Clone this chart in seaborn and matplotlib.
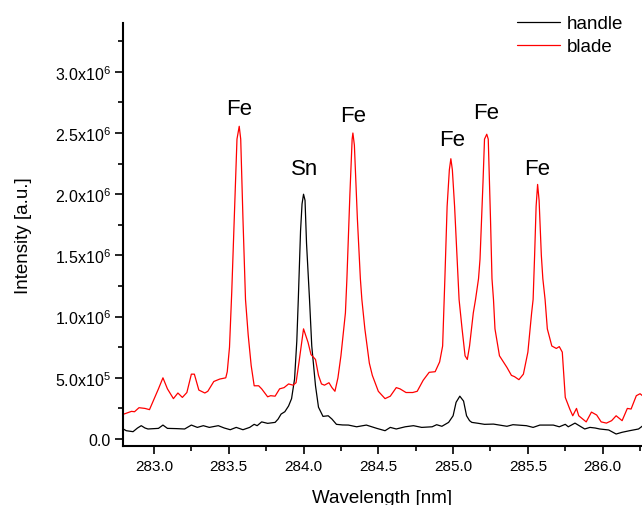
import numpy as np
import pandas as pd
import seaborn as sns
import matplotlib.pyplot as plt

# wavelength [nm] and intensity [1e6 a.u.]
handle_x = [282.79, 282.815, 282.86, 282.89, 282.915, 282.94, 282.96, 283.03, 283.06, 283.09,
            283.15, 283.205, 283.25, 283.29, 283.33, 283.37, 283.43, 283.47, 283.51, 283.55,
            283.595, 283.64, 283.67, 283.69, 283.72, 283.76, 283.81, 283.83, 283.85, 283.875,
            283.90, 283.92, 283.94, 283.955, 283.965, 283.98, 283.99, 284.00, 284.01, 284.02,
            284.04, 284.055, 284.08, 284.10, 284.13, 284.165, 284.19, 284.22, 284.26, 284.30,
            284.355, 284.42, 284.49, 284.545, 284.58, 284.62, 284.68, 284.735, 284.79, 284.86,
            284.89, 284.925, 284.97, 285.00, 285.02, 285.045, 285.07, 285.09, 285.11, 285.125,
            285.17, 285.21, 285.27, 285.36, 285.40, 285.49, 285.535, 285.58, 285.67, 285.71,
            285.75, 285.77, 285.815, 285.85, 285.88, 285.915, 285.95, 285.98, 286.04, 286.09,
            286.13, 286.18, 286.24, 286.27]
handle_y = [0.085, 0.068, 0.06, 0.09, 0.109, 0.09, 0.082, 0.087, 0.114, 0.087,
            0.085, 0.082, 0.114, 0.095, 0.109, 0.095, 0.109, 0.09, 0.076, 0.095,
            0.076, 0.095, 0.12, 0.109, 0.14, 0.128, 0.136, 0.163, 0.204, 0.223,
            0.27, 0.33, 0.49, 0.80, 1.14, 1.7, 1.92, 2.00, 1.95, 1.6,
            1.14, 0.76, 0.435, 0.26, 0.185, 0.19, 0.163, 0.12, 0.115, 0.114,
            0.10, 0.114, 0.087, 0.068, 0.095, 0.082, 0.10, 0.109, 0.095, 0.10,
            0.117, 0.104, 0.136, 0.19, 0.30, 0.35, 0.31, 0.19, 0.15, 0.136,
            0.128, 0.12, 0.122, 0.104, 0.117, 0.109, 0.095, 0.114, 0.114, 0.10,
            0.12, 0.10, 0.13, 0.104, 0.082, 0.095, 0.09, 0.082, 0.074, 0.041,
            0.055, 0.068, 0.082, 0.11]

blade_x = [282.79, 282.85, 282.87, 282.90, 282.94, 282.97, 283.03, 283.06, 283.09, 283.13,
           283.16, 283.19, 283.22, 283.25, 283.27, 283.30, 283.34, 283.36, 283.40, 283.44,
           283.48, 283.49, 283.505, 283.52, 283.54, 283.555, 283.57, 283.58, 283.595, 283.612,
           283.63, 283.65, 283.67, 283.70, 283.72, 283.76, 283.78, 283.81, 283.84, 283.87,
           283.90, 283.93, 283.95, 283.97, 284.00, 284.03, 284.05, 284.08, 284.10, 284.12,
           284.14, 284.17, 284.19, 284.21, 284.23, 284.25, 284.28, 284.29, 284.31, 284.325,
           284.33, 284.34, 284.36, 284.38, 284.39, 284.41, 284.44, 284.46, 284.50, 284.545,
           284.58, 284.62, 284.645, 284.685, 284.73, 284.76, 284.80, 284.84, 284.88, 284.91,
           284.93, 284.945, 284.96, 284.975, 284.985, 284.995, 285.01, 285.04, 285.06, 285.08,
           285.095, 285.11, 285.135, 285.15, 285.17, 285.18, 285.20, 285.21, 285.225, 285.235,
           285.25, 285.26, 285.27, 285.28, 285.31, 285.36, 285.39, 285.41, 285.44, 285.47,
           285.50, 285.525, 285.535, 285.545, 285.555, 285.565, 285.575, 285.59, 285.60, 285.615,
           285.63, 285.66, 285.69, 285.71, 285.73, 285.75, 285.78, 285.80, 285.825, 285.84,
           285.89, 285.925, 285.96, 285.99, 286.025, 286.06, 286.09, 286.13, 286.165, 286.19,
           286.225, 286.25, 286.27]
blade_y = [0.20, 0.226, 0.223, 0.256, 0.25, 0.24, 0.41, 0.50, 0.41, 0.33,
           0.376, 0.34, 0.38, 0.53, 0.53, 0.40, 0.376, 0.39, 0.47, 0.49,
           0.50, 0.55, 0.75, 1.2, 1.9, 2.45, 2.555, 2.45, 1.8, 1.14,
           0.85, 0.6, 0.435, 0.435, 0.41, 0.345, 0.354, 0.35, 0.41, 0.42,
           0.45, 0.44, 0.46, 0.63, 0.90, 0.79, 0.69, 0.65, 0.52, 0.45,
           0.44, 0.46, 0.42, 0.39, 0.5, 0.68, 1.03, 1.31, 2.0, 2.45,
           2.50, 2.4, 1.8, 1.31, 1.14, 0.90, 0.62, 0.52, 0.39, 0.33,
           0.35, 0.42, 0.41, 0.38, 0.38, 0.39, 0.48, 0.545, 0.55, 0.63,
           0.76, 1.31, 1.9, 2.2, 2.29, 2.2, 1.9, 1.14, 0.90, 0.68,
           0.65, 0.76, 1.03, 1.14, 1.31, 1.47, 2.1, 2.45, 2.49, 2.45,
           1.8, 1.31, 1.14, 0.90, 0.68, 0.585, 0.52, 0.51, 0.485, 0.53,
           0.71, 1.03, 1.14, 1.5, 1.9, 2.08, 1.95, 1.5, 1.31, 1.14,
           0.90, 0.76, 0.74, 0.755, 0.71, 0.34, 0.245, 0.19, 0.25, 0.19,
           0.14, 0.22, 0.196, 0.14, 0.13, 0.15, 0.19, 0.15, 0.25, 0.245,
           0.354, 0.37, 0.35]

# peak labels
peak_names = ["Fe", "Sn", "Fe", "Fe", "Fe", "Fe"]
peak_x = [283.57, 284.01, 284.33, 284.995, 285.22, 285.56]
peak_y = [2.70, 2.21, 2.64, 2.45, 2.67, 2.21]

ytick_vals = [0.0, 0.5, 1.0, 1.5, 2.0, 2.5, 3.0]
ytick_labels = ["0.0", "$5.0x10^{5}$", "$1.0x10^{6}$", "$1.5x10^{6}$",
                "$2.0x10^{6}$", "$2.5x10^{6}$", "$3.0x10^{6}$"]
xtick_vals = [283.0, 283.5, 284.0, 284.5, 285.0, 285.5, 286.0]

sns.set_style("ticks")
plt.rcParams["font.family"] = ["Liberation Sans", "DejaVu Sans"]
plt.rcParams["mathtext.default"] = "regular"
for key in ["text.color", "axes.labelcolor", "xtick.color", "ytick.color", "axes.edgecolor"]:
    plt.rcParams[key] = "black"

df = pd.concat([
    pd.DataFrame({"wl": handle_x, "I": np.array(handle_y) * 1e6, "sample": "handle"}),
    pd.DataFrame({"wl": blade_x, "I": np.array(blade_y) * 1e6, "sample": "blade"}),
])

fig = plt.figure(figsize=(6.42, 5.06), dpi=100)
ax = fig.add_axes([0.1916, 0.1166, 0.8084, 0.836])
sns.lineplot(data=df, x="wl", y="I", hue="sample", palette={"handle": "black", "blade": "red"},
             estimator=None, linewidth=0.9, ax=ax)

for name, px, py in zip(peak_names, peak_x, peak_y):
    ax.text(px, py * 1e6, name, ha="center", va="center", fontsize=16)

ax.set_xlim(282.793, 286.263)
ax.set_ylim(-0.057e6, 3.399e6)
ax.set_xticks(xtick_vals)
ax.set_xticklabels([f"{v:.1f}" for v in xtick_vals], fontsize=11)
ax.set_xticks(np.arange(283.25, 286.3, 0.5), minor=True)
ax.set_yticks([v * 1e6 for v in ytick_vals])
ax.set_yticklabels(ytick_labels, fontsize=11.5)
ax.set_yticks(np.arange(0.25e6, 3.4e6, 0.5e6), minor=True)
ax.tick_params(which="major", direction="out", length=6, width=1.2, pad=3)
ax.tick_params(which="minor", direction="out", length=3.5, width=1.2)
sns.despine(ax=ax)
for s in ["left", "bottom"]:
    ax.spines[s].set_linewidth(1.5)

ax.set_xlabel("Wavelength [nm]", fontsize=13.5, labelpad=12)
ax.set_ylabel("Intensity [a.u.]", fontsize=13.5, labelpad=16)

leg = ax.legend(title=None, frameon=False, loc="upper left", bbox_to_anchor=(0.806, 0.968),
                bbox_transform=fig.transFigure, fontsize=13.5, borderpad=0, borderaxespad=0,
                handlelength=2.26, handletextpad=0.35, labelspacing=0.3)
for line in leg.get_lines():
    line.set_linewidth(0.9)

fig.savefig("out.png", dpi=100)
